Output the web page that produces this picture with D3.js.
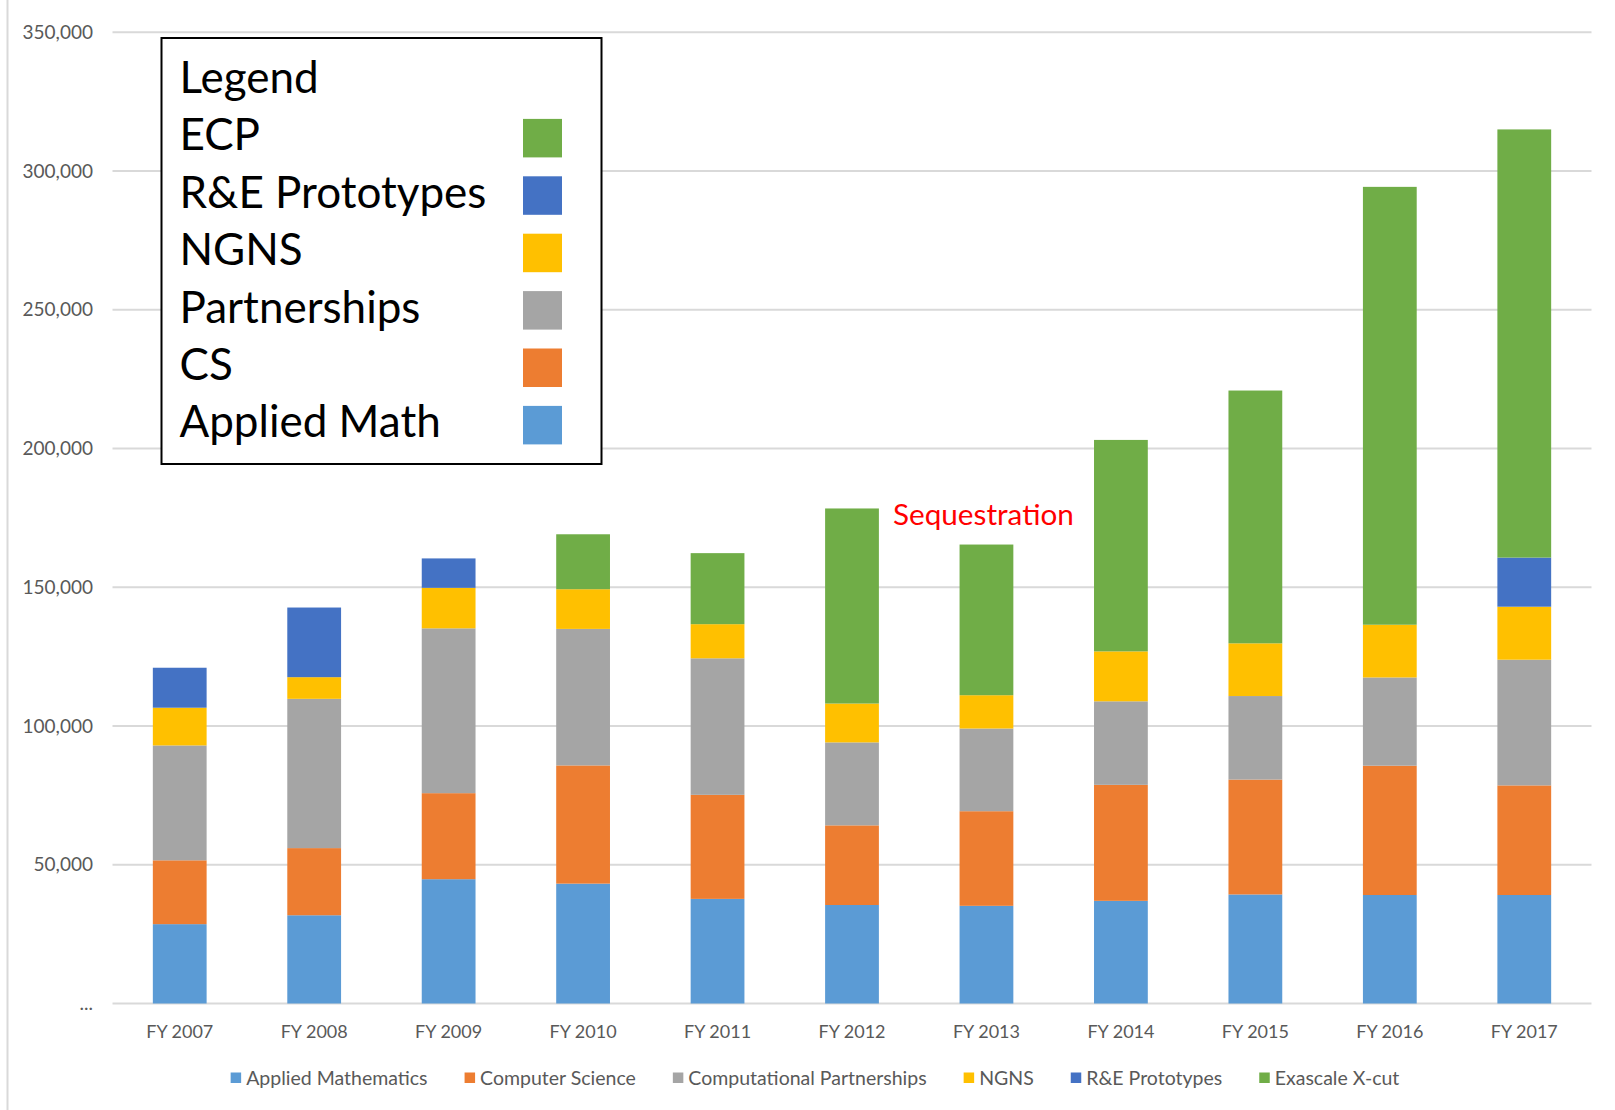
<!DOCTYPE html>
<html>
<head>
<meta charset="utf-8">
<script src="https://cdn.jsdelivr.net/npm/d3@7"></script>
<style>
  html, body { margin: 0; padding: 0; background: #fff; }
  svg { display: block; font-family: Lato, "Open Sans", sans-serif; }
</style>
</head>
<body>
<div id="app"></div>
<script>
// fiscal years on the x axis
const years = ["FY 2007", "FY 2008", "FY 2009", "FY 2010", "FY 2011", "FY 2012",
  "FY 2013", "FY 2014", "FY 2015", "FY 2016", "FY 2017"];

// series values
const appliedMath = [28600, 31800, 44800, 43200, 37700, 35500, 35200, 37000, 39300, 39100, 39100];
const computerScience = [23000, 24200, 31000, 42600, 37500, 28700, 34100, 41800, 41400, 46600, 39500];
const partnerships = [41400, 53800, 59400, 49200, 49200, 29900, 29800, 30100, 30100, 31800, 45300];
const ngns = [13600, 7800, 14600, 14300, 12300, 14000, 12000, 18000, 19000, 19000, 19100];
const prototypes = [14400, 25100, 10600, 0, 0, 0, 0, 0, 0, 0, 17700];
const exascale = [0, 0, 0, 19800, 25600, 70300, 54300, 76200, 91100, 157800, 154300];

const yTicks = [0, 50000, 100000, 150000, 200000, 250000, 300000, 350000];

const series = [
  { key: "am", name: "Applied Mathematics", short: "Applied Math", color: "#5b9bd5", values: appliedMath },
  { key: "cs", name: "Computer Science", short: "CS", color: "#ed7d31", values: computerScience },
  { key: "cp", name: "Computational Partnerships", short: "Partnerships", color: "#a5a5a5", values: partnerships },
  { key: "ngns", name: "NGNS", short: "NGNS", color: "#ffc000", values: ngns },
  { key: "re", name: "R&E Prototypes", short: "R&E Prototypes", color: "#4472c4", values: prototypes },
  { key: "ecp", name: "Exascale X-cut", short: "ECP", color: "#70ad47", values: exascale }
];

const width = 1615, height = 1110;
const svg = d3.select("#app").append("svg")
  .attr("width", width)
  .attr("height", height);

// faint chart frame line on the left
svg.append("line")
  .attr("x1", 7.5).attr("x2", 7.5)
  .attr("y1", 0).attr("y2", height)
  .attr("stroke", "#d9d9d9").attr("stroke-width", 2);

const x = d3.scaleBand()
  .domain(years)
  .range([112.5, 1591.5])
  .paddingInner(0.6)
  .paddingOuter(0.3);

const y = d3.scaleLinear()
  .domain([0, 350000])
  .range([1003.5, 32.3]);

// gridlines
svg.append("g")
  .selectAll("line")
  .data(yTicks)
  .join("line")
    .attr("x1", 112.5).attr("x2", 1591.5)
    .attr("y1", d => y(d)).attr("y2", d => y(d))
    .attr("stroke", "#d9d9d9")
    .attr("stroke-width", 2);

// y axis labels
const yAxis = d3.axisLeft(y)
  .tickValues(yTicks)
  .tickSize(0)
  .tickPadding(0)
  .tickFormat(d => d === 0 ? "..." : d3.format(",")(d));

svg.append("g")
  .attr("transform", "translate(93,0)")
  .call(yAxis)
  .call(g => g.select(".domain").remove())
  .call(g => g.selectAll("text")
    .attr("fill", "#595959")
    .attr("font-size", 19)
    .attr("font-family", "Lato, sans-serif"));

// stacked bars
const rows = years.map((yr, i) => {
  const r = { year: yr };
  series.forEach(s => { r[s.key] = s.values[i]; });
  return r;
});

const stacked = d3.stack().keys(series.map(s => s.key))(rows);

svg.append("g")
  .selectAll("g")
  .data(stacked)
  .join("g")
    .attr("fill", (d, i) => series[i].color)
  .selectAll("rect")
  .data(d => d.filter(p => p[1] > p[0]))
  .join("rect")
    .attr("x", d => x(d.data.year))
    .attr("width", x.bandwidth())
    .attr("y", d => y(d[1]))
    .attr("height", d => y(d[0]) - y(d[1]));

// x axis labels
const xAxis = d3.axisBottom(x).tickSize(0).tickPadding(0);
svg.append("g")
  .attr("transform", "translate(0,1003.5)")
  .call(xAxis)
  .call(g => g.select(".domain").remove())
  .call(g => g.selectAll("text")
    .attr("y", 34.5)
    .attr("dy", 0)
    .attr("fill", "#595959")
    .attr("font-size", 18)
    .attr("font-family", "Lato, sans-serif"));

// bottom legend, centred
const bottom = svg.append("g");
const items = bottom.selectAll("g")
  .data(series)
  .join("g");
items.append("rect")
  .attr("width", 10.5).attr("height", 10.5)
  .attr("y", -5.5)
  .attr("fill", d => d.color);
items.append("text")
  .attr("x", 15.5)
  .attr("dy", "0.35em")
  .attr("fill", "#595959")
  .attr("font-size", 19.5)
  .text(d => d.name);

let cursor = 0;
const offsets = [];
items.each(function() {
  offsets.push(cursor);
  cursor += this.getBBox().width + 37;
});
const total = cursor - 37;
items.attr("transform", (d, i) => `translate(${offsets[i]},0)`);
bottom.attr("transform", `translate(${815 - total / 2},1078)`);

// boxed legend at top left
const box = svg.append("g").attr("transform", "translate(161.5,38)");
box.append("rect")
  .attr("width", 440).attr("height", 426)
  .attr("fill", "#fff")
  .attr("stroke", "#000")
  .attr("stroke-width", 2);
box.append("text")
  .attr("x", 18).attr("y", 55)
  .attr("font-size", 44)
  .attr("fill", "#000")
  .text("Legend");

const boxRows = box.selectAll("g.row")
  .data(series.slice().reverse())
  .join("g")
    .attr("class", "row")
    .attr("transform", (d, i) => `translate(0,${55 + 57.4 * (i + 1)})`);
boxRows.append("text")
  .attr("x", 18)
  .attr("font-size", 44)
  .attr("fill", "#000")
  .text(d => d.short);
boxRows.append("rect")
  .attr("x", 361.5).attr("y", -31.5)
  .attr("width", 39).attr("height", 38.5)
  .attr("fill", d => d.color);

// annotation
svg.append("text")
  .attr("x", 893).attr("y", 525)
  .attr("font-size", 29.7)
  .attr("fill", "#ff0000")
  .text("Sequestration");
</script>
</body>
</html>
